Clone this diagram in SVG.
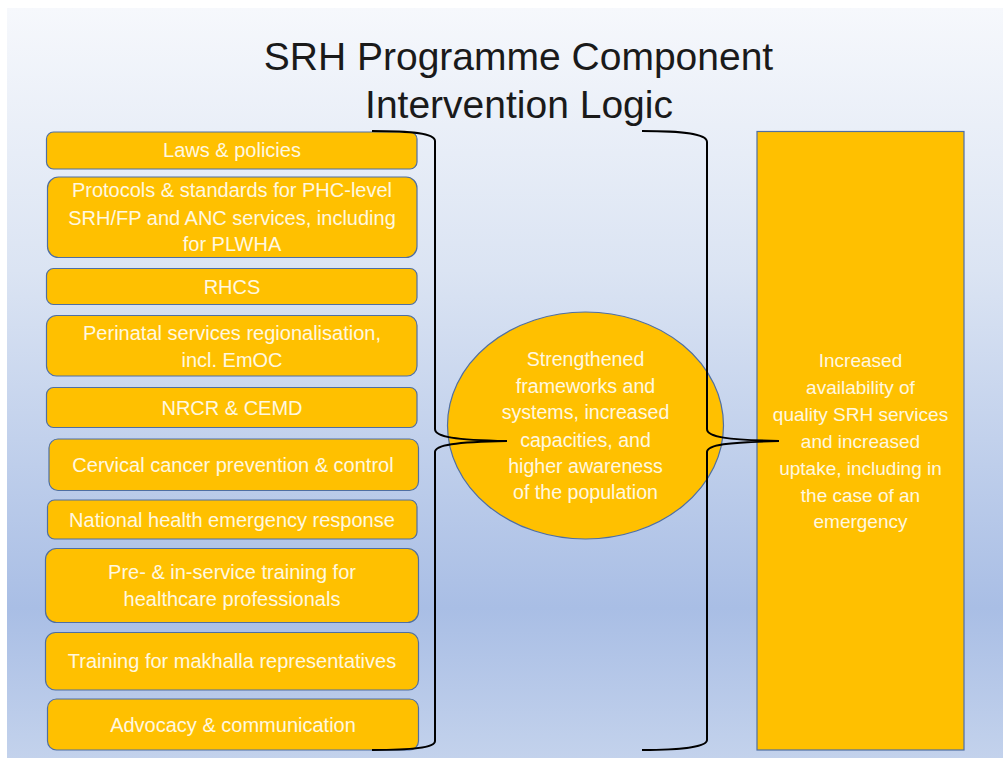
<svg xmlns="http://www.w3.org/2000/svg" width="1003" height="758" viewBox="0 0 1003 758">
<defs>
<linearGradient id="bg" x1="0" y1="0" x2="0" y2="1">
<stop offset="0" stop-color="#f6f8fc"/>
<stop offset="0.35" stop-color="#dbe4f3"/>
<stop offset="0.8" stop-color="#a9bee5"/>
<stop offset="1" stop-color="#c3d2ec"/>
</linearGradient>
<style>
.box{fill:#ffc000;stroke:#4f6fa3;stroke-width:1.2}
.t{font-family:"Liberation Sans",Arial,sans-serif;font-size:20px;fill:#fff8e0;text-anchor:middle}
.e{font-size:19.6px}
.r{font-size:19px}
.title{font-family:"Liberation Sans",Arial,sans-serif;font-size:39px;fill:#1a1a1a;text-anchor:middle}
.br{fill:none;stroke:#000;stroke-width:2}
</style>
</defs>
<rect x="0" y="0" width="1003" height="758" fill="#fff"/>
<rect x="7" y="8" width="996" height="750" fill="url(#bg)"/>
<g id="title">
<text class="title" x="518.5" y="70">SRH Programme Component</text>
<text class="title" x="519" y="117.5">Intervention Logic</text>
</g>
<g id="n1"><rect class="box" x="46.5" y="132" width="370.5" height="37" rx="7"/><text class="t" x="232" y="157">Laws &amp; policies</text></g>
<g id="n2"><rect class="box" x="47.5" y="177" width="369.5" height="80.5" rx="11"/><text class="t" x="232" y="197">Protocols &amp; standards for PHC-level</text><text class="t" x="232" y="224.5">SRH/FP and ANC services, including</text><text class="t" x="232" y="251">for PLWHA</text></g>
<g id="n3"><rect class="box" x="46.5" y="268.5" width="370.5" height="36" rx="7"/><text class="t" x="232" y="293.5">RHCS</text></g>
<g id="n4"><rect class="box" x="46.5" y="315.5" width="370.5" height="60.5" rx="10"/><text class="t" x="232" y="339.5">Perinatal services regionalisation,</text><text class="t" x="232" y="366.5">incl. EmOC</text></g>
<g id="n5"><rect class="box" x="46.5" y="387.5" width="370.5" height="40" rx="7"/><text class="t" x="232" y="415">NRCR &amp; CEMD</text></g>
<g id="n6"><rect class="box" x="49" y="439" width="369.5" height="51.5" rx="9"/><text class="t" x="233" y="472">Cervical cancer prevention &amp; control</text></g>
<g id="n7"><rect class="box" x="47.5" y="500" width="369.5" height="39" rx="7"/><text class="t" x="232" y="526.5">National health emergency response</text></g>
<g id="n8"><rect class="box" x="45.5" y="548.5" width="373" height="74" rx="11"/><text class="t" x="232" y="579">Pre- &amp; in-service training for</text><text class="t" x="232" y="606">healthcare professionals</text></g>
<g id="n9"><rect class="box" x="45.5" y="632.5" width="373" height="57.5" rx="10"/><text class="t" x="232" y="668">Training for makhalla representatives</text></g>
<g id="n10"><rect class="box" x="47.5" y="699" width="371" height="51" rx="9"/><text class="t" x="233" y="732">Advocacy &amp; communication</text></g>
<g id="outcome"><ellipse class="box" cx="585.5" cy="425.5" rx="138" ry="113.5"/>
<text class="t e" x="585.5" y="365.5">Strengthened</text>
<text class="t e" x="585.5" y="392.5">frameworks and</text>
<text class="t e" x="585.5" y="419.3">systems, increased</text>
<text class="t e" x="585.5" y="446.5">capacities, and</text>
<text class="t e" x="585.5" y="472.8">higher awareness</text>
<text class="t e" x="585.5" y="499.3">of the population</text>
</g>
<g id="impact"><rect class="box" x="757" y="131.5" width="207" height="618.5"/>
<text class="t r" x="860.5" y="367.3">Increased</text>
<text class="t r" x="860.5" y="394">availability of</text>
<text class="t r" x="860.5" y="420.7">quality SRH services</text>
<text class="t r" x="860.5" y="448">and increased</text>
<text class="t r" x="860.5" y="475">uptake, including in</text>
<text class="t r" x="860.5" y="501.7">the case of an</text>
<text class="t r" x="860.5" y="528.3">emergency</text>
</g>
<g id="connectors">
<path class="br" d="M372,131 C410,131 435,133 435,141 L435,429 C435,437 455,440 507,441 C455,442 435,445 435,452 L435,741 C435,748 410,750 372,750"/>
<path class="br" d="M642,131 C680,131 707,133 707,142 L707,429 C707,437 727,440 779,441 C727,442 707,445 707,452 L707,740 C707,747 680,750 642,750"/>
</g>
</svg>
